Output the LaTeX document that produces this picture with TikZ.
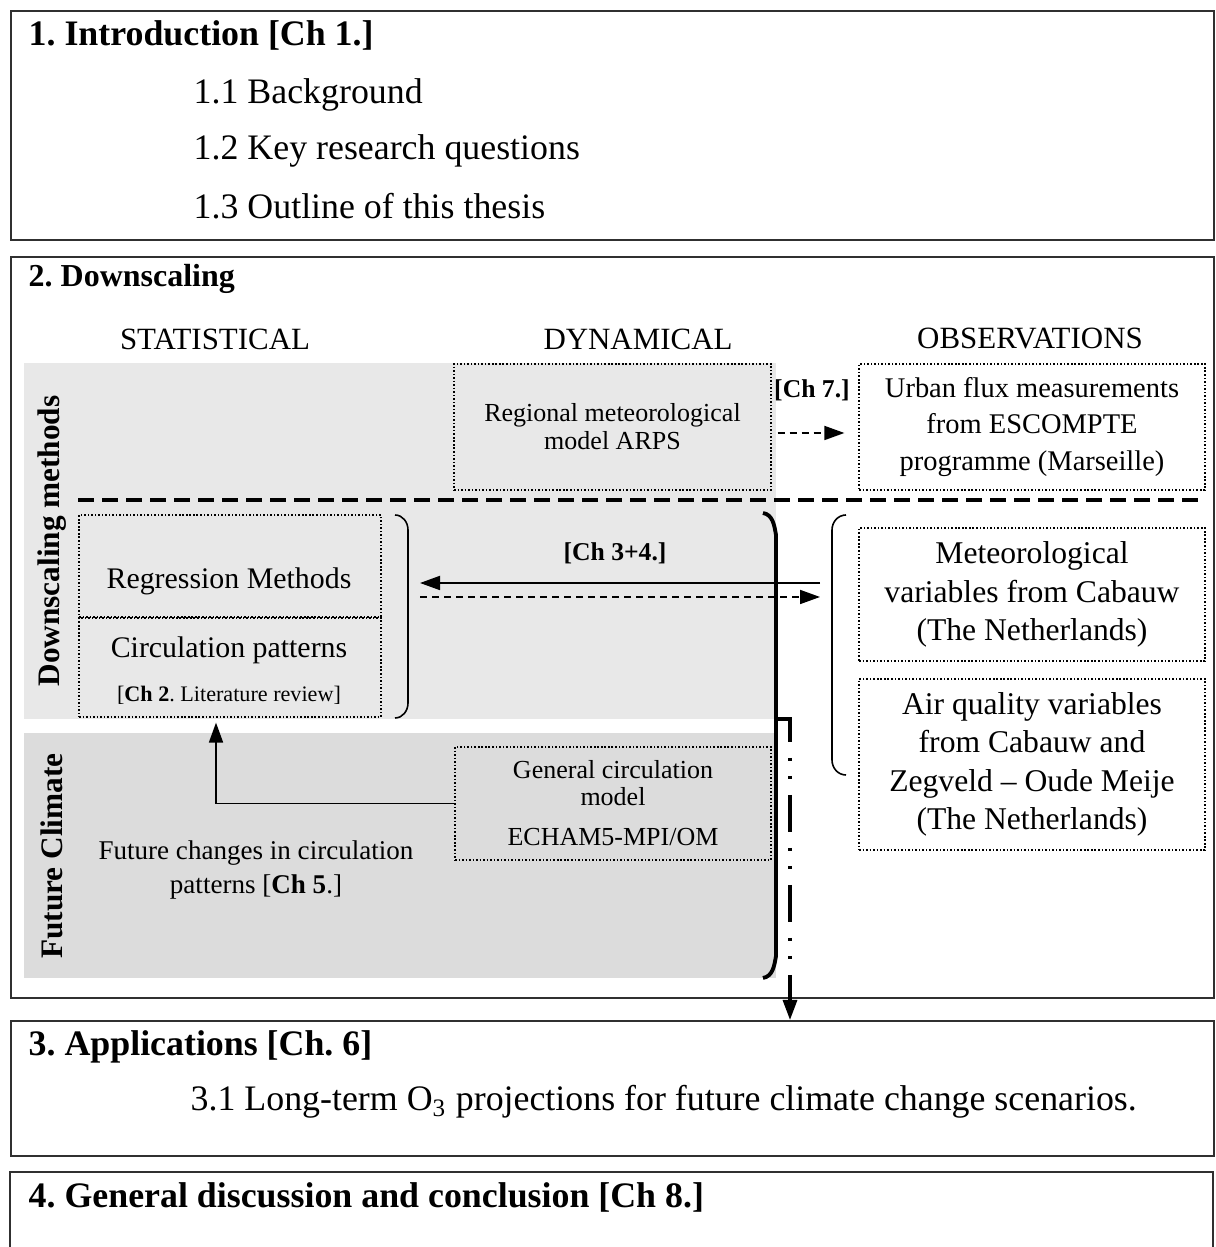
\documentclass[tikz,border=0pt]{standalone}
\usepackage{fontspec}
\setmainfont{Liberation Serif}
\usetikzlibrary{arrows.meta, positioning, calc}
\definecolor{methodgray}{HTML}{E8E8E8}
\definecolor{climategray}{HTML}{DCDCDC}
\definecolor{framegray}{HTML}{303030}

\begin{document}
\frenchspacing
\begin{tikzpicture}[
    frame/.style={draw=framegray, line width=0.6pt, minimum width=12.03cm, anchor=north west, inner sep=0pt},
    dotbox/.style={draw, line width=0.35pt, dash pattern=on 0.45pt off 0.55pt, inner sep=0pt, align=center},
    title/.style={anchor=west, inner sep=0pt, font=\fontsize{10.2}{12}\selectfont\bfseries},
    item/.style={anchor=west, inner sep=0pt, font=\fontsize{10.2}{12}\selectfont},
    colhead/.style={inner sep=0pt, font=\fontsize{8.8}{10}\selectfont},
    sidelabel/.style={rotate=90, inner sep=0pt, font=\fontsize{8.9}{10}\selectfont\bfseries},
    tip/.style={-{Triangle[length=0.2cm, width=0.14cm]}},
    thinarrow/.style={tip, line width=0.5pt},
    dasharrow/.style={tip, line width=0.5pt, dash pattern=on 0.07cm off 0.05cm}
  ]
        \useasboundingbox (0,0) rectangle (12.15,12.47);
        \fill[white] (0,0) rectangle (12.15,12.47);
        \node[frame, minimum height=2.29cm] (introbox) at (0.10,12.37) {};
        \node[title] (introtitle) at (0.28,12.12) {1. Introduction [Ch 1.]};
        \node[item] (introa) at (1.93,11.52) {1.1 Background};
        \node[item] (introb) at (1.93,10.96) {1.2 Key research questions};
        \node[item] (introc) at (1.93,10.41) {1.3 Outline of this thesis};
        \node[frame, minimum height=7.41cm] (downbox) at (0.10,9.91) {};
        \node[title, font=\fontsize{9.1}{11}\selectfont\bfseries] (downtitle) at (0.28,9.68) {2. Downscaling};
        \node[colhead] (stathead) at (2.15,9.08) {STATISTICAL};
        \node[colhead] (dynhead) at (6.38,9.08) {DYNAMICAL};
        \node[colhead] (obshead) at (10.30,9.08) {OBSERVATIONS};
        \fill[methodgray] (0.24,8.84) rectangle (7.76,5.28);
        \fill[climategray] (0.24,5.14) rectangle (7.76,2.69);
        \draw[line width=0.95pt, dash pattern=on 0.16cm off 0.08cm] (0.78,7.47) -- (12.00,7.47);
        \node[sidelabel] (dsmlabel) at (0.52,7.06) {Downscaling methods};
        \node[sidelabel] (fclabel) at (0.52,3.91) {Future Climate};
        \node[dotbox, minimum width=3.17cm, minimum height=1.26cm,
              font=\fontsize{7.4}{8}\selectfont] (arps) at (6.125,8.20)
              {Regional meteorological\\model ARPS};
        \node[dotbox, minimum width=3.46cm, minimum height=1.26cm,
              font=\fontsize{8.1}{10.4}\selectfont] (urban) at (10.32,8.20)
              {Urban flux measurements\\from ESCOMPTE\\programme (Marseille)};
        \node[inner sep=0pt, font=\fontsize{7.3}{9}\selectfont\bfseries] (ch7) at (8.12,8.57) {[Ch 7.]};
        \draw[dasharrow] ([shift={(0.06,-0.06)}]arps.east) -- ([shift={(-0.14,-0.06)}]urban.west);
        \node[dotbox, minimum width=3.02cm, minimum height=1.02cm] (regr) at (2.30,6.81) {};
        \node[dotbox, minimum width=3.02cm, minimum height=0.99cm] (circ) at (2.30,5.795) {};
        \node[inner sep=0pt, font=\fontsize{8.5}{10}\selectfont] (regrtext) at (2.29,6.66) {Regression Methods};
        \node[inner sep=0pt, font=\fontsize{8.5}{10}\selectfont] (circtext) at (2.29,5.97) {Circulation patterns};
        \node[inner sep=0pt, font=\fontsize{6.3}{8}\selectfont] (littext) at (2.29,5.52) {[\textbf{Ch 2}. Literature review]};
        \draw[line width=0.45pt] (3.95,7.32) to[out=0, in=90] (4.08,7.17) -- (4.08,5.44) to[out=-90, in=0] (3.95,5.29);
        \draw[line width=1.1pt] (7.63,7.34) to[out=-10, in=100] (7.76,7.12) -- (7.76,2.91) to[out=-100, in=10] (7.63,2.69);
        \draw[line width=0.45pt] (8.46,7.32) to[out=180, in=90] (8.32,7.17) -- (8.32,4.87) to[out=-90, in=180] (8.46,4.72);
        \node[dotbox, minimum width=3.46cm, minimum height=1.33cm,
              font=\fontsize{9}{11}\selectfont] (met) at (10.32,6.525)
              {Meteorological\\variables from Cabauw\\(The Netherlands)};
        \node[dotbox, minimum width=3.46cm, minimum height=1.71cm,
              font=\fontsize{9}{10.9}\selectfont] (air) at (10.32,4.825)
              {Air quality variables\\from Cabauw and\\Zegveld -- Oude Meije\\(The Netherlands)};
        \node[inner sep=0pt, font=\fontsize{7.3}{9}\selectfont\bfseries] (ch34) at (6.15,6.94) {[Ch 3+4.]};
        \coordinate (statbrace) at (4.20,6.57);
        \coordinate (obsbrace) at (8.20,6.57);
        \draw[thinarrow] ([yshift=0.07cm]obsbrace) -- ([yshift=0.07cm]statbrace);
        \draw[dasharrow] ([yshift=-0.07cm]statbrace) -- ([yshift=-0.07cm]obsbrace);
        \node[dotbox, minimum width=3.16cm, minimum height=1.13cm,
              font=\fontsize{7.4}{7.7}\selectfont] (gcm) at (6.13,4.435)
              {General circulation\\model\\[0.13cm]ECHAM5-MPI/OM};
        \draw[thinarrow] (gcm.west) -| ([xshift=-0.14cm, yshift=-0.05cm]circ.south);
        \node[inner sep=0pt, align=center, font=\fontsize{7.7}{9.4}\selectfont] (futtext) at (2.56,3.77)
              {Future changes in circulation\\patterns [\textbf{Ch 5}.]};
        \node[frame, minimum height=1.35cm] (applbox) at (0.10,2.27) {};
        \node[title] (appltitle) at (0.28,2.00) {3. Applications [Ch. 6]};
        \node[item] (applitem) at (1.90,1.45) {3.1 Long-term O\textsubscript{3} projections for future climate change scenarios.};
        \coordinate (bktfoot) at (7.76,5.28);
        \coordinate (dashx) at (7.90,5.28);
        \draw[tip, line width=0.9pt, dash pattern=on 0.37cm off 0.16cm on 0.03cm off 0.15cm on 0.03cm off 0.16cm]
              (bktfoot) -- (dashx) -- (dashx |- applbox.north);
        \draw[draw=framegray, line width=0.6pt] (0.10,-0.10) -- (0.10,0.75) -- (12.13,0.75) -- (12.13,-0.10);
        \node[title] (conctitle) at (0.28,0.50) {4. General discussion and conclusion [Ch 8.]};
      \end{tikzpicture}
\end{document}
